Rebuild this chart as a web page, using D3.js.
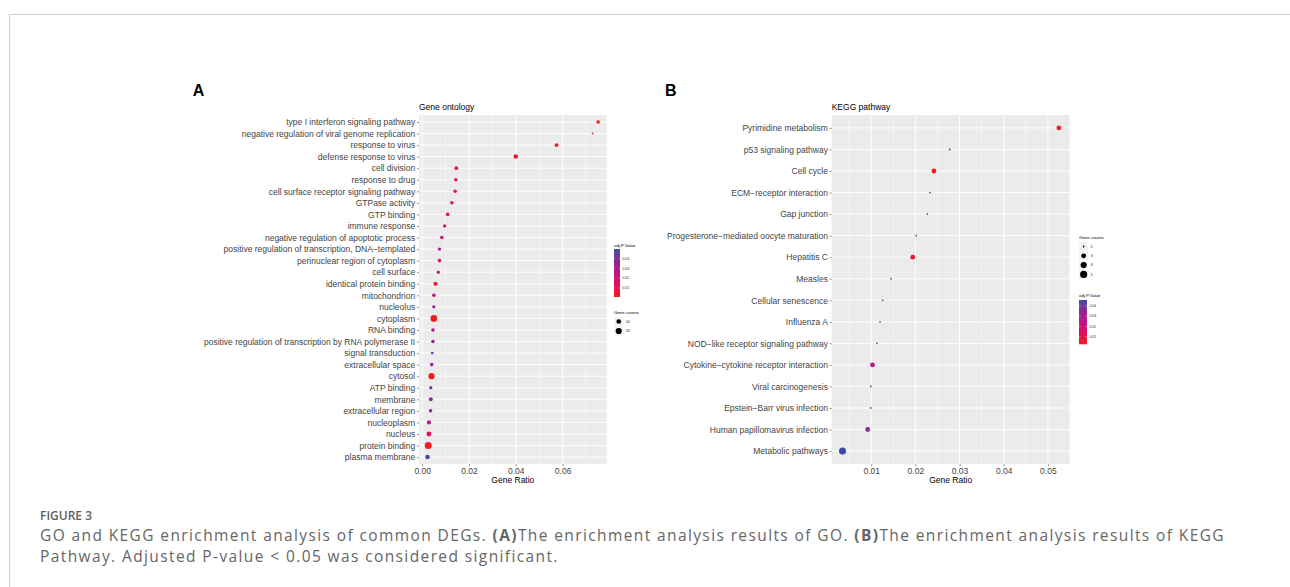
<!DOCTYPE html>
<html>
<head>
<meta charset="utf-8">
<script src="https://cdn.jsdelivr.net/npm/d3@7"></script>
<style>
  body { margin: 0; background: #fff; }
  svg { display: block; }
</style>
</head>
<body>
<div id="chart"></div>
<script>
// GO terms, top to bottom
const goTerms = [
  "type I interferon signaling pathway",
  "negative regulation of viral genome replication",
  "response to virus",
  "defense response to virus",
  "cell division",
  "response to drug",
  "cell surface receptor signaling pathway",
  "GTPase activity",
  "GTP binding",
  "immune response",
  "negative regulation of apoptotic process",
  "positive regulation of transcription, DNA\u2212templated",
  "perinuclear region of cytoplasm",
  "cell surface",
  "identical protein binding",
  "mitochondrion",
  "nucleolus",
  "cytoplasm",
  "RNA binding",
  "positive regulation of transcription by RNA polymerase II",
  "signal transduction",
  "extracellular space",
  "cytosol",
  "ATP binding",
  "membrane",
  "extracellular region",
  "nucleoplasm",
  "nucleus",
  "protein binding",
  "plasma membrane"
];
const goRatio = [0.0752, 0.0728, 0.0574, 0.0400, 0.0146, 0.0144, 0.0141, 0.0127, 0.0109, 0.0096,
                 0.0084, 0.0074, 0.0074, 0.0069, 0.0057, 0.0050, 0.0050, 0.0050, 0.0046, 0.0046,
                 0.0043, 0.0041, 0.0040, 0.0037, 0.0037, 0.0036, 0.0029, 0.0029, 0.0026, 0.0023];
const goCount = [5, 2, 6, 9, 6, 5, 5, 5, 5, 4,
                 5, 4, 5, 4, 7, 5, 4, 25, 5, 5,
                 3, 5, 20, 4, 6, 5, 7, 11, 28, 9];
const goPadj = [0.0010, 0.0040, 0.0020, 0.0015, 0.0040, 0.0080, 0.0100, 0.0110, 0.0140, 0.0190,
                0.0220, 0.0300, 0.0150, 0.0310, 0.0060, 0.0210, 0.0360, 0.0012, 0.0270, 0.0330,
                0.0460, 0.0360, 0.0020, 0.0410, 0.0370, 0.0380, 0.0270, 0.0100, 0.0008, 0.0497];

// KEGG pathways, top to bottom
const keggTerms = [
  "Pyrimidine metabolism",
  "p53 signaling pathway",
  "Cell cycle",
  "ECM\u2212receptor interaction",
  "Gap junction",
  "Progesterone\u2212mediated oocyte maturation",
  "Hepatitis C",
  "Measles",
  "Cellular senescence",
  "Influenza A",
  "NOD\u2212like receptor signaling pathway",
  "Cytokine\u2212cytokine receptor interaction",
  "Viral carcinogenesis",
  "Epstein\u2212Barr virus infection",
  "Human papillomavirus infection",
  "Metabolic pathways"
];
const keggRatio = [0.0525, 0.0278, 0.0242, 0.0233, 0.0227, 0.0202, 0.0194, 0.0145,
                   0.0126, 0.0120, 0.0113, 0.0103, 0.0099, 0.0099, 0.0092, 0.0035];
const keggCount = [3, 2, 3, 2, 2, 2, 3, 2, 2, 2, 2, 3, 2, 2, 3, 5];
const keggPadj = [0.0040, 0.0340, 0.0025, 0.0340, 0.0350, 0.0360, 0.0080, 0.0380,
                  0.0410, 0.0400, 0.0400, 0.0270, 0.0440, 0.0440, 0.0360, 0.0460];

// axis ticks and legend breaks
const goTicks = [0, 0.02, 0.04, 0.06];
const keggTicks = [0.01, 0.02, 0.03, 0.04, 0.05];
const padjBreaks = [0.01, 0.02, 0.03, 0.04];
const goCountBreaks = [10, 20];
const keggCountBreaks = [2, 3, 4, 5];

// red -> blue gradient used for adj.P.Value
const gradColors = ["#EE1D23", "#E3105A", "#C21487", "#8B2596", "#3E4BA6"];

const W = 1290, H = 587;
const FONT = "'Liberation Sans', Arial, Helvetica, sans-serif";

const svg = d3.select("#chart").append("svg")
    .attr("width", W)
    .attr("height", H);

// figure frame (left and top rule)
svg.append("path")
    .attr("d", "M9.5," + H + "V14.5H" + W)
    .attr("fill", "none")
    .attr("stroke", "#cfcfcf")
    .attr("stroke-width", 1);

function colorScale(padj) {
  const ext = d3.extent(padj);
  return d3.scaleLinear()
      .domain(gradColors.map((c, i) => ext[0] + i * (ext[1] - ext[0]) / (gradColors.length - 1)))
      .range(gradColors)
      .interpolate(d3.interpolateLab);
}

// ggplot-like area scale: size 1..6, radius in px (plus stroke)
function sizeScale(count) {
  const t = d3.scaleLinear().domain(d3.extent(count)).range([0, 1]).clamp(true);
  return c => 0.53 * (1 + 5 * Math.sqrt(t(c))) + 0.35;
}

function drawPanel(p) {
  const data = p.terms.map((t, i) => ({term: t, ratio: p.ratio[i], count: p.count[i], padj: p.padj[i]}));

  const ext = d3.extent(p.ratio);
  const pad = (ext[1] - ext[0]) * 0.05;
  const x = d3.scaleLinear().domain([ext[0] - pad, ext[1] + pad]).range([p.left, p.right]);
  const y = d3.scalePoint().domain(p.terms).range([p.top, p.bottom]).padding(0.6);
  const color = colorScale(p.padj);
  const r = sizeScale(p.count);

  const g = svg.append("g");

  // panel letter and title
  g.append("text")
      .attr("x", p.letterX).attr("y", 96)
      .style("font-family", FONT).style("font-size", "16px").style("font-weight", "bold")
      .text(p.letter);
  g.append("text")
      .attr("x", p.left).attr("y", 110)
      .style("font-family", FONT).style("font-size", "8.5px")
      .text(p.title);

  // background
  g.append("rect")
      .attr("x", p.left).attr("y", p.top)
      .attr("width", p.right - p.left).attr("height", p.bottom - p.top)
      .attr("fill", "#EBEBEB");

  // minor vertical grid
  const major = x.ticks(p.nTicks);
  const step = major[1] - major[0];
  const minor = d3.range(major[0] - step / 2, x.domain()[1], step)
      .filter(v => v > x.domain()[0] && v < x.domain()[1]);
  g.selectAll(".minor").data(minor).join("line")
      .attr("x1", d => x(d)).attr("x2", d => x(d))
      .attr("y1", p.top).attr("y2", p.bottom)
      .attr("stroke", "#fff").attr("stroke-width", 0.45);

  // major grid
  g.selectAll(".vmajor").data(p.ticks).join("line")
      .attr("x1", d => x(d)).attr("x2", d => x(d))
      .attr("y1", p.top).attr("y2", p.bottom)
      .attr("stroke", "#fff").attr("stroke-width", 0.9);
  g.selectAll(".hmajor").data(p.terms).join("line")
      .attr("x1", p.left).attr("x2", p.right)
      .attr("y1", d => y(d)).attr("y2", d => y(d))
      .attr("stroke", "#fff").attr("stroke-width", 0.9);

  // points
  g.selectAll("circle.pt").data(data).join("circle")
      .attr("class", "pt")
      .attr("cx", d => x(d.ratio))
      .attr("cy", d => y(d.term))
      .attr("r", d => r(d.count))
      .attr("fill", d => color(d.padj));

  // axes
  const yAxis = g.append("g")
      .attr("transform", "translate(" + p.left + ",0)")
      .call(d3.axisLeft(y).tickSize(2.2).tickPadding(1.6));
  const xAxis = g.append("g")
      .attr("transform", "translate(0," + p.bottom + ")")
      .call(d3.axisBottom(x).tickValues(p.ticks).tickFormat(d3.format(".2f")).tickSize(2.2).tickPadding(1.5));
  [yAxis, xAxis].forEach(a => {
    a.select(".domain").remove();
    a.selectAll(".tick line").attr("stroke", "#333").attr("stroke-width", 0.5);
    a.selectAll("text")
        .style("font-family", FONT).style("font-size", "8.5px")
        .attr("fill", "#444");
  });

  g.append("text")
      .attr("x", (p.left + p.right) / 2).attr("y", 483)
      .attr("text-anchor", "middle")
      .style("font-family", FONT).style("font-size", "8.5px")
      .text("Gene Ratio");

  return {color: color, r: r, padjExt: d3.extent(p.padj)};
}

function drawColorbar(s, x0, titleY, top, bottom, w) {
  const g = svg.append("g");
  g.append("text").attr("x", x0).attr("y", titleY)
      .style("font-family", FONT).style("font-size", "4.4px")
      .text("adj.P.Value");

  const yb = d3.scaleLinear().domain(s.padjExt).range([bottom, top]);
  const id = "grad" + Math.round(x0);
  const grad = svg.append("defs").append("linearGradient")
      .attr("id", id).attr("x1", 0).attr("x2", 0).attr("y1", 1).attr("y2", 0);
  grad.selectAll("stop").data(d3.range(0, 1.0001, 0.05)).join("stop")
      .attr("offset", d => d)
      .attr("stop-color", d => s.color(s.padjExt[0] + d * (s.padjExt[1] - s.padjExt[0])));
  g.append("rect")
      .attr("x", x0).attr("y", top).attr("width", w).attr("height", bottom - top)
      .attr("fill", "url(#" + id + ")");

  const br = padjBreaks.filter(v => v >= s.padjExt[0] && v <= s.padjExt[1]);
  g.selectAll(".tl").data(br).join("line")
      .attr("x1", x0).attr("x2", x0 + w / 5)
      .attr("y1", d => yb(d)).attr("y2", d => yb(d))
      .attr("stroke", "#fff").attr("stroke-width", 0.4);
  g.selectAll(".tr").data(br).join("line")
      .attr("x1", x0 + w - w / 5).attr("x2", x0 + w)
      .attr("y1", d => yb(d)).attr("y2", d => yb(d))
      .attr("stroke", "#fff").attr("stroke-width", 0.4);
  g.selectAll(".lab").data(br).join("text")
      .attr("x", x0 + w + 2.5).attr("y", d => yb(d))
      .attr("dy", "0.35em")
      .style("font-family", FONT).style("font-size", "3.4px")
      .attr("fill", "#222")
      .text(d => d.toFixed(2));
}

function drawSizeLegend(s, breaks, x0, titleY, firstY, gap) {
  const g = svg.append("g");
  g.append("text").attr("x", x0).attr("y", titleY)
      .style("font-family", FONT).style("font-size", "4.4px")
      .text("Gene counts");
  const key = g.selectAll(".key").data(breaks).join("g")
      .attr("transform", (d, i) => "translate(" + x0 + "," + (firstY + i * gap) + ")");
  key.append("rect")
      .attr("x", 0).attr("y", -gap / 2).attr("width", gap).attr("height", gap)
      .attr("fill", "#F2F2F2").attr("stroke", "#fff").attr("stroke-width", 0.5);
  key.append("circle")
      .attr("cx", gap / 2).attr("cy", 0)
      .attr("r", d => s.r(d))
      .attr("fill", "#000");
  key.append("text")
      .attr("x", gap + 2.5).attr("dy", "0.35em")
      .style("font-family", FONT).style("font-size", "3.4px")
      .text(d => d);
}

const goScales = drawPanel({
  terms: goTerms, ratio: goRatio, count: goCount, padj: goPadj,
  left: 419, right: 606.7, top: 115, bottom: 464,
  ticks: goTicks, nTicks: 4, title: "Gene ontology", letter: "A", letterX: 192.7
});
const keggScales = drawPanel({
  terms: keggTerms, ratio: keggRatio, count: keggCount, padj: keggPadj,
  left: 831.7, right: 1069.7, top: 115, bottom: 464,
  ticks: keggTicks, nTicks: 5, title: "KEGG pathway", letter: "B", letterX: 665
});

// legends: GO has colour first, KEGG has size first
drawColorbar(goScales, 614, 246.5, 249, 297, 6);
drawSizeLegend(goScales, goCountBreaks, 614, 313.5, 321.5, 9.5);
drawSizeLegend(keggScales, keggCountBreaks, 1079, 239, 246.5, 9.3);
drawColorbar(keggScales, 1079, 296.5, 300, 344.3, 8);

// caption
const CAP = "'Open Sans', 'Noto Sans', sans-serif";
svg.append("text")
    .attr("x", 40).attr("y", 520)
    .style("font-family", CAP).style("font-size", "12px").style("font-weight", 600)
    .attr("fill", "#5f5f5f")
    .text("FIGURE 3");

const capSize = 15.5;
const line1 = svg.append("text")
    .attr("x", 40).attr("y", 541)
    .style("font-family", CAP).style("font-size", capSize + "px")
    .attr("fill", "#666");
line1.append("tspan").text("GO and KEGG enrichment analysis of common DEGs. ");
line1.append("tspan").style("font-weight", 700).text("(A)");
line1.append("tspan").text("The enrichment analysis results of GO. ");
line1.append("tspan").style("font-weight", 700).text("(B)");
line1.append("tspan").text("The enrichment analysis results of KEGG");

const line2 = svg.append("text")
    .attr("x", 40).attr("y", 562)
    .style("font-family", CAP).style("font-size", capSize + "px")
    .attr("fill", "#666")
    .text("Pathway. Adjusted P-value < 0.05 was considered significant.");

// widen letter spacing so line 1 spans the same width as in the figure
const n1 = line1.text().length;
const ls = (1185 - line1.node().getComputedTextLength()) / n1;
line1.style("letter-spacing", ls + "px");
line2.style("letter-spacing", ls + "px");
</script>
</body>
</html>
